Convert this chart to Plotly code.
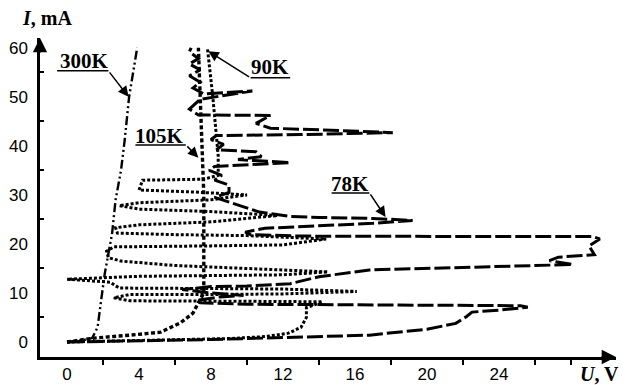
import plotly.graph_objects as go

# Current-voltage characteristics (U in V, I in mA) at several temperatures
curve_300K = [(0, 0), (0.8, 0.3), (1.4, 0.8), (1.7, 3), (1.9, 8.6), (2.1, 14), (2.3, 18),
              (2.5, 22), (2.7, 29), (3.0, 35), (3.2, 41), (3.45, 50), (3.9, 60)]

curve_105K = [(0, 0), (1.5, 0.8), (3.5, 1.4), (5.2, 2.0), (6.3, 3.9), (7.0, 5.9), (7.3, 8.0),
              (7.6, 10), (7.6, 20), (7.6, 30), (7.5, 40), (7.4, 50), (7.3, 60)]

curve_90K = [(0, 0), (3, 0.2), (6, 0.4), (9, 0.7), (11, 1.1), (12.3, 1.8), (13.0, 3.0),
             (13.3, 5.0), (13.3, 7.0), (14.2, 8.2), (10, 8.3), (6, 8.3), (3.5, 8.4), (2.6, 9.0),
             (3.5, 9.7), (8, 9.7), (12, 9.8), (16.1, 10.3), (12, 10.8), (8, 10.9), (4, 11.0),
             (2.9, 11.0), (2.4, 12.2), (0.0, 12.8), (4, 13.4), (8, 13.5), (12, 13.7), (14.5, 14.3),
             (10, 15.0), (6, 15.6), (3, 16.5), (2.3, 17.2), (2.2, 18.5), (2.6, 19.4), (8, 19.6),
             (12, 19.8), (14.4, 21.0), (10, 21.7), (6, 21.9), (2.8, 22.2), (2.7, 23.3), (4, 23.9),
             (8, 24.5), (11.7, 25.8), (8, 26.6), (4, 27.1), (2.9, 27.8), (4, 28.4), (8, 29.0),
             (10.0, 30.0), (7, 30.6), (4.0, 31.0), (4.2, 33.0), (7.6, 33.2), (8.4, 34.0),
             (8.4, 38), (8.3, 42.0), (8.1, 50), (7.8, 60)]

curve_78K = [(0, 0), (4, 0.2), (8, 0.5), (12, 0.9), (16.8, 1.4), (20, 2.6), (21.6, 3.8),
             (22.2, 5.2), (22.5, 6.1), (24, 6.5), (25.6, 7.1), (25.2, 7.4), (20, 7.5), (14, 7.6),
             (10, 7.7), (7.4, 8.0), (7.2, 8.5), (8.5, 9.2), (9.8, 9.5), (8, 10.0), (6.4, 10.7),
             (8, 11.3), (10, 11.4), (12.4, 11.9), (14, 13.3), (16.8, 14.7), (22, 15.2),
             (26.5, 15.5), (28.1, 15.8), (26.8, 16.6), (27.3, 17.3), (29.3, 17.8), (29.0, 19.6),
             (29.6, 21.0), (29.2, 21.5), (24, 21.5), (18, 21.5), (13, 21.6), (10.2, 21.9),
             (9.9, 22.4), (11, 23.2), (14, 23.7), (17, 24.2), (19.2, 24.8), (17, 25.2), (14, 25.4),
             (12.4, 25.6), (10.7, 26.5), (9.5, 28.0), (8.2, 29.5), (9.0, 30.5), (9.0, 32.0),
             (8.2, 33.0), (8.6, 34.0), (7.9, 35.0), (8.2, 35.8), (12.4, 36.6), (9.5, 37.2),
             (10.8, 37.8), (10.5, 38.8), (8.3, 39.2), (8.7, 40.3), (8.0, 41.3), (8.3, 42.1),
             (13, 42.3), (18.1, 42.7), (13, 43.4), (11.3, 43.6), (10.5, 44.6), (11.3, 46.2),
             (7.3, 46.3), (6.8, 47.5), (7.4, 49.5), (10.3, 51.2), (7.6, 50.6), (7.0, 51.8),
             (7.4, 53.0), (6.8, 54.3), (7.4, 55.5), (6.8, 56.7), (7.3, 57.8), (6.8, 59.2),
             (6.9, 60.0)]

x_tick_vals = [0, 4, 8, 12, 16, 20, 24]
x_minor_vals = [2, 6, 10, 14, 18, 22, 26, 28]
y_tick_vals = [0, 10, 20, 30, 40, 50, 60]
y_minor_vals = [5, 15, 25, 35, 45, 55]

# label text, label centre, underline span (u0, u1, i) and arrow tip (u, i)
labels = [
    ("300K", (0.95, 57.3), (-0.55, 2.3, 55.3), (3.42, 50.0)),
    ("105K", (5.15, 42.0), (3.8, 6.6, 40.2), (7.3, 37.6)),
    ("90K", (11.25, 56.1), (10.2, 12.4, 53.9), (7.85, 59.3)),
    ("78K", (15.7, 32.2), (14.7, 16.8, 30.4), (17.7, 25.5)),
]

styles = {
    "300K": dict(dash="9px,3px,2px,3px,2px,3px", width=2.4),
    "105K": dict(dash="4px,2.5px", width=3.4),
    "90K": dict(dash="3px,2px", width=3.0),
    "78K": dict(dash="16px,4px", width=3.0),
}

fig = go.Figure()
for name, pts in [("90K", curve_90K), ("105K", curve_105K), ("78K", curve_78K), ("300K", curve_300K)]:
    u, i = zip(*pts)
    fig.add_trace(go.Scatter(x=list(u), y=list(i), mode="lines", name=name,
                             line=dict(color="black", **styles[name]), showlegend=False,
                             cliponaxis=False))

label_font = dict(family="Liberation Serif", size=21, color="black")
for text, (tx, ty), (ux0, ux1, uy), (ax_, ay_) in labels:
    fig.add_annotation(x=tx, y=ty, text=f"<b>{text}</b>", showarrow=False, font=label_font,
                       xanchor="center", yanchor="middle")
    fig.add_shape(type="line", x0=ux0, x1=ux1, y0=uy, y1=uy, line=dict(color="black", width=1.5))
    tail_x = ux1 if ax_ > ux1 else ux0
    fig.add_annotation(x=ax_, y=ay_, ax=tail_x, ay=uy, axref="x", ayref="y", xref="x", yref="y",
                       text="", showarrow=True, arrowhead=2, arrowsize=1.4, arrowwidth=1.5,
                       arrowcolor="black")

# axis arrowheads
fig.add_annotation(xref="paper", yref="paper", x=1.0, y=0, ax=-16, ay=0, text="", showarrow=True,
                   arrowhead=2, arrowsize=1.3, arrowwidth=2.2, arrowcolor="black")
fig.add_annotation(xref="paper", yref="paper", x=0, y=1.0, ax=0, ay=16, text="", showarrow=True,
                   arrowhead=2, arrowsize=1.3, arrowwidth=2.2, arrowcolor="black")

axis_title_font = dict(family="Liberation Serif", size=20, color="black")
fig.add_annotation(xref="paper", yref="paper", x=0.012, y=1.062, text="<b><i>I</i>, mA</b>",
                   showarrow=False, font=axis_title_font, xanchor="center", yanchor="middle")
fig.add_annotation(xref="paper", yref="paper", x=0.972, y=-0.054, text="<b><i>U</i>, V</b>",
                   showarrow=False, font=axis_title_font, xanchor="center", yanchor="middle")

tick_font = dict(family="Liberation Sans", size=17, color="black")
fig.update_xaxes(range=[-1.5, 30.5], showline=True, linecolor="black", linewidth=2.5,
                 showgrid=False, zeroline=False, tickvals=x_tick_vals, ticks="outside",
                 ticklen=0, tickcolor="rgba(0,0,0,0)", tickfont=tick_font, automargin=False,
                 minor=dict(tickvals=x_minor_vals, ticks="outside", ticklen=5, tickwidth=1.5,
                            tickcolor="black", showgrid=False))
fig.update_yaxes(range=[-3.06, 62], showline=True, linecolor="black", linewidth=2.5,
                 showgrid=False, zeroline=False, tickvals=y_tick_vals, ticks="outside",
                 ticklen=6, tickcolor="rgba(0,0,0,0)", tickfont=tick_font, automargin=False,
                 minor=dict(tickvals=y_minor_vals, ticks="inside", ticklen=4, tickwidth=1.5,
                            tickcolor="black", showgrid=False))

fig.update_layout(width=626, height=385, margin=dict(l=40, r=10, t=38, b=28),
                  paper_bgcolor="white", plot_bgcolor="white")

fig.write_html("out.html")
